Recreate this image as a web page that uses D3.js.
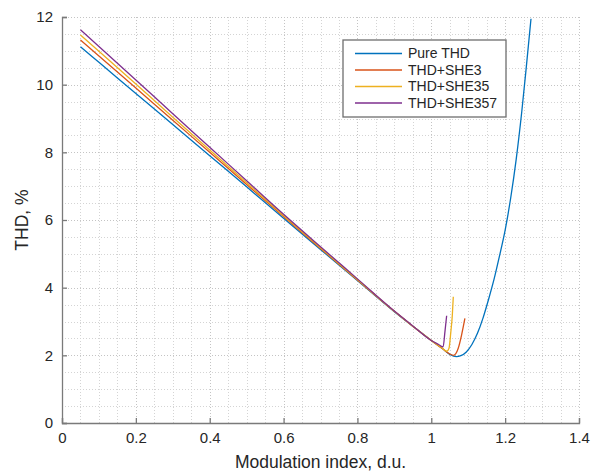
<!DOCTYPE html>
<meta charset="utf-8">
<head>
    <style>
        body { margin: 0; background: #fff; }
        text { font-family: "Liberation Sans", Arial, sans-serif; fill: #262626; }
        .grid line { shape-rendering: crispEdges; }
    </style>
    <script src="https://cdn.jsdelivr.net/npm/d3@7"></script>
</head>
<body></body>
<script>

    // modulation index (x) and THD, % (y) for each curve
    var xBase = [0.05, 0.1, 0.2, 0.3, 0.4, 0.5, 0.6, 0.7, 0.8, 0.9, 0.95, 1.0];

    var mPure   = xBase.concat([1.03, 1.05, 1.068, 1.08, 1.095, 1.11, 1.125, 1.14, 1.155, 1.17, 1.185, 1.2, 1.215, 1.23, 1.245, 1.258, 1.27]);
    var thdPure = [11.12, 10.66, 9.74, 8.82, 7.90, 6.98, 6.05, 5.13, 4.21, 3.29, 2.86, 2.44,
                   2.2, 2.03, 1.96, 1.99, 2.1, 2.32, 2.65, 3.1, 3.65, 4.25, 4.95, 5.7, 6.65, 7.8, 9.2, 10.6, 11.95];

    var mShe3   = xBase.concat([1.03, 1.05, 1.06, 1.073, 1.082, 1.091]);
    var thdShe3 = [11.32, 10.85, 9.90, 8.95, 8.00, 7.05, 6.10, 5.16, 4.23, 3.30, 2.86, 2.44,
                   2.2, 2.04, 2.0, 2.21, 2.6, 3.09];

    var mShe35   = xBase.concat([1.03, 1.042, 1.048, 1.053, 1.057, 1.0596]);
    var thdShe35 = [11.47, 10.99, 10.02, 9.04, 8.07, 7.10, 6.13, 5.18, 4.24, 3.30, 2.86, 2.44,
                    2.21, 2.12, 2.21, 2.70, 3.19, 3.73];

    var mShe357   = xBase.concat([1.02, 1.032, 1.037, 1.0416]);
    var thdShe357 = [11.62, 11.13, 10.14, 9.14, 8.15, 7.16, 6.17, 5.21, 4.26, 3.31, 2.87, 2.44,
                     2.32, 2.25, 2.70, 3.17];

    var seriesNames = ["Pure THD", "THD+SHE3", "THD+SHE35", "THD+SHE357"];
    var seriesColors = ["#0072BD", "#D95319", "#EDB120", "#7E2F8E"];

    var xTicks = [0, 0.2, 0.4, 0.6, 0.8, 1, 1.2, 1.4];
    var yTicks = [0, 2, 4, 6, 8, 10, 12];

    var width = 593,
        height = 475,
        margin = {top: 17, right: 14, bottom: 52, left: 62};

    var x = d3.scaleLinear().domain([0, 1.4]).range([margin.left, width - margin.right]),
        y = d3.scaleLinear().domain([0, 12]).range([height - margin.bottom, margin.top]);

    var svg = d3.select("body").append("svg")
        .attr("width", width)
        .attr("height", height);

    // minor grid (0.05 in x, 0.5 in y) then major grid
    var grid = svg.append("g").attr("class", "grid");

    grid.selectAll(".vminor")
        .data(d3.range(1, 28).map(function(i) { return i * 0.05; }))
      .enter().append("line")
        .attr("x1", function(d) { return Math.round(x(d)) + 0.5; })
        .attr("x2", function(d) { return Math.round(x(d)) + 0.5; })
        .attr("y1", y(0)).attr("y2", y(12))
        .attr("stroke", "#d4d4d4")
        .attr("stroke-dasharray", "1,2");

    grid.selectAll(".hminor")
        .data(d3.range(1, 24).map(function(i) { return i * 0.5; }))
      .enter().append("line")
        .attr("y1", function(d) { return Math.round(y(d)) + 0.5; })
        .attr("y2", function(d) { return Math.round(y(d)) + 0.5; })
        .attr("x1", x(0)).attr("x2", x(1.4))
        .attr("stroke", "#d4d4d4")
        .attr("stroke-dasharray", "1,2");

    grid.selectAll(".vmajor")
        .data(xTicks.slice(1))
      .enter().append("line")
        .attr("x1", function(d) { return Math.round(x(d)) + 0.5; })
        .attr("x2", function(d) { return Math.round(x(d)) + 0.5; })
        .attr("y1", y(0)).attr("y2", y(12))
        .attr("stroke", "#c4c4c4")
        .attr("stroke-dasharray", "1,2");

    grid.selectAll(".hmajor")
        .data(yTicks.slice(1))
      .enter().append("line")
        .attr("y1", function(d) { return Math.round(y(d)) + 0.5; })
        .attr("y2", function(d) { return Math.round(y(d)) + 0.5; })
        .attr("x1", x(0)).attr("x2", x(1.4))
        .attr("stroke", "#c4c4c4")
        .attr("stroke-dasharray", "1,2");

    // axes, MATLAB style ticks pointing inward
    var xAxis = svg.append("g")
        .attr("transform", "translate(0," + y(0) + ")")
        .call(d3.axisBottom(x).tickValues(xTicks).tickSize(-5).tickPadding(9)
            .tickFormat(function(d) { return d === 0 || d === 1 ? d : d3.format(".1f")(d); }));

    var yAxis = svg.append("g")
        .attr("transform", "translate(" + x(0) + ",0)")
        .call(d3.axisLeft(y).tickValues(yTicks).tickSize(-5).tickPadding(9));

    [xAxis, yAxis].forEach(function(a) {
        a.select(".domain").attr("stroke", "#7a7a7a").attr("stroke-width", 1.3);
        a.selectAll(".tick line").attr("stroke", "#7a7a7a").attr("stroke-width", 1.3);
        a.selectAll(".tick text")
            .attr("fill", "#262626")
            .style("font-size", "15px")
            .style("font-family", "'Liberation Sans', Arial, sans-serif");
    });

    // curves
    var line = d3.line()
        .x(function(d) { return x(d[0]); })
        .y(function(d) { return y(d[1]); })
        .curve(d3.curveMonotoneX);

    var series = [
        d3.zip(mPure, thdPure),
        d3.zip(mShe3, thdShe3),
        d3.zip(mShe35, thdShe35),
        d3.zip(mShe357, thdShe357)
    ];

    svg.selectAll(".curve")
        .data(series)
      .enter().append("path")
        .attr("class", "curve")
        .attr("d", line)
        .attr("fill", "none")
        .attr("stroke", function(d, i) { return seriesColors[i]; })
        .attr("stroke-width", 1.3);

    // axis labels
    svg.append("text")
        .attr("x", (x(0) + x(1.4)) / 2)
        .attr("y", 468)
        .attr("text-anchor", "middle")
        .style("font-size", "17.5px")
        .text("Modulation index, d.u.");

    svg.append("text")
        .attr("transform", "translate(28," + (y(0) + y(12)) / 2 + ") rotate(-90)")
        .attr("text-anchor", "middle")
        .style("font-size", "17.5px")
        .text("THD, %");

    // legend
    var legend = svg.append("g").attr("transform", "translate(343,40)");

    legend.append("rect")
        .attr("width", 163)
        .attr("height", 77)
        .attr("fill", "#fff")
        .attr("stroke", "#6e6e6e")
        .attr("stroke-width", 1.3);

    var rows = legend.selectAll(".row")
        .data(seriesNames)
      .enter().append("g")
        .attr("transform", function(d, i) { return "translate(0," + (13.5 + i * 16.5) + ")"; });

    rows.append("line")
        .attr("x1", 12).attr("x2", 59)
        .attr("stroke", function(d, i) { return seriesColors[i]; })
        .attr("stroke-width", 1.3);

    rows.append("text")
        .attr("x", 65)
        .attr("dy", "0.35em")
        .style("font-size", "14px")
        .text(function(d) { return d; });

</script>
